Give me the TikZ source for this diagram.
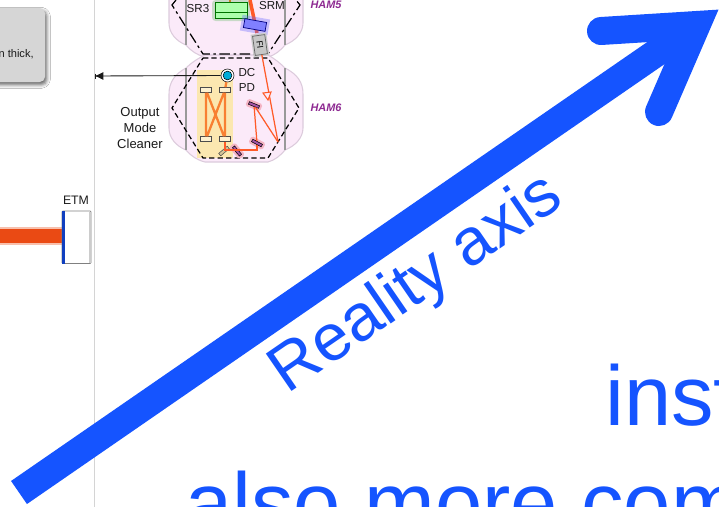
\documentclass[tikz,border=0pt]{standalone}
\usepackage{fontspec}
\setmainfont{Liberation Sans}
\usepackage{tikz}
\usetikzlibrary{arrows.meta,positioning,calc,shadows.blur}
\definecolor{Ink}{HTML}{1A1A1A}
\definecolor{AxisBlue}{HTML}{1554FF}
\definecolor{HamFill}{HTML}{FBEAF9}
\definecolor{HamLine}{HTML}{DCCBDC}
\definecolor{HamText}{HTML}{8E2A92}
\definecolor{BeamRed}{HTML}{FF5A28}
\definecolor{BeamOrange}{HTML}{F88032}
\definecolor{BeamDeep}{HTML}{EA4A14}
\definecolor{OmcFill}{HTML}{FBE7B0}
\definecolor{NoteGrey}{HTML}{D6D6D6}
\definecolor{RuleGrey}{HTML}{D4D4D4}
\definecolor{HaloPink}{HTML}{F4B4C4}
\tikzset{
  hamlabel/.style={font=\fontsize{6.2}{7}\selectfont\bfseries\itshape,text=HamText},
  optlabel/.style={font=\fontsize{6.6}{8.6}\selectfont,text=Ink,align=center},
  hexline/.style={black,dashed,dash pattern=on 3pt off 1.8pt,line width=.7pt},
  hexdash/.style={black,line width=.7pt,dash pattern=on 6pt off 2pt on 1.5pt off 2pt},
  beam/.style={BeamOrange,line width=1.3pt},
  thinbeam/.style={BeamRed,line width=.7pt},
  omcmirror/.style={draw=black!70,fill=OmcFill!60!white,line width=.3pt,minimum width=6.2pt,minimum height=2.8pt,inner sep=0pt},
  redmirror/.style={draw=black,fill=HamText!80,line width=.3pt,minimum width=6.2pt,minimum height=1.6pt,inner sep=0pt},
  mirrorhalo/.style={fill=HaloPink,rounded corners=1pt,minimum width=9pt,minimum height=4.4pt,inner sep=0pt},
  axislabel/.style={font=\fontsize{37.5}{40}\selectfont,text=AxisBlue},
  bigline/.style={font=\fontsize{48.3}{56}\selectfont,text=AxisBlue,anchor=base west,inner sep=0pt}
}
\begin{document}
\begin{tikzpicture}[x=.2mm,y=-.2mm]
  \useasboundingbox (0,0) rectangle (719,507);
  \clip (0,0) rectangle (719,507);
  \fill[white] (0,0) rectangle (719,507);

  % Note box and rule on the left
  \draw[RuleGrey,line width=.4pt] (94.5,0)--(94.5,507);
  \fill[NoteGrey,rounded corners=3pt,blur shadow={shadow xshift=1pt,shadow yshift=-1.6pt,shadow blur radius=2pt,shadow opacity=60}] (-10,8) rectangle (45,82);
  \node[font=\fontsize{6.3}{7}\selectfont,text=Ink,anchor=east,inner sep=0pt] (note) at (34,54) {n thick,};

  % End mirror
  \fill[BeamDeep!35] (0,227) rectangle (62,245);
  \fill[BeamDeep] (0,229) rectangle (62,243);
  \draw[black!50,fill=white,line width=.4pt,rounded corners=.5pt] (62,211) rectangle (91,263.5);
  \fill[black!20] (88.5,211.5) rectangle (90.8,263);
  \fill[AxisBlue!75!black] (62,211) rectangle (65,263.5);
  \node[optlabel,font=\fontsize{7}{8}\selectfont] (etm) at (76,200) {ETM};

  % Chambers
  \foreach \y in {-105,0}{
    \filldraw[HamFill,draw=HamLine,line width=.6pt] (205,\y+55)--(268,\y+55)
      ..controls (275,\y+59) and (280,\y+63) ..(285,\y+68)
      ..controls (297,\y+74) and (303,\y+82) ..(303,\y+94)--(303,\y+128)
      ..controls (303,\y+138) and (295,\y+146) ..(285,\y+150)
      ..controls (280,\y+156) and (275,\y+160) ..(268,\y+162)--(205,\y+162)
      ..controls (197,\y+160) and (191,\y+156) ..(186,\y+150)
      ..controls (176,\y+146) and (169,\y+138) ..(169,\y+128)--(169,\y+94)
      ..controls (169,\y+82) and (175,\y+74) ..(186,\y+68)
      ..controls (191,\y+63) and (197,\y+59) ..(205,\y+55)--cycle;
    \draw[black!40,line width=.8pt] (186,\y+68)--(186,\y+150);
    \draw[black!40,line width=.8pt] (285,\y+68)--(285,\y+150);
  }
  \fill[OmcFill] (197,70) rectangle (233,158);
  \draw[hexline] (203,58)--(268,58)--(299,108)--(268,158)--(203,158)--(172,108)--cycle;
  \draw[hexdash] (176,0)--(172,5)--(203,54)--(268,54)--(300,5)--(296,0);

  % HAM5 optics
  \draw[BeamRed,line width=2pt] (250,0)--(257,33);
  \draw[BeamOrange,line width=1.4pt] (230,0)--(230,3);
  \fill[green!60!black,opacity=.2,rounded corners=2pt] (212,0) rectangle (250,21);
  \filldraw[fill=green!32!white,draw=green!45!black,line width=.4pt] (215,2) rectangle (247,18);
  \draw[green!45!black,line width=.3pt] (215,12)--(247,12);
  \node[optlabel] (sr3) at (198,9) {SR3};
  \node[optlabel] (srm) at (272,6) {SRM};
  \fill[blue!60!white,opacity=.35,rotate around={-10:(255,25)}] (241,17) rectangle (269,33);
  \filldraw[fill=blue!50!white,draw=blue!50!black,line width=.4pt,rotate around={-10:(255,25)}] (244,20.5) rectangle (266,29.5);
  \node[fill=black!20,rotate=-82,minimum width=13pt,minimum height=9pt,inner sep=0pt] (fihalo) at (260,45) {};
  \node[draw=black!60,fill=black!22,rotate=-82,minimum width=11pt,minimum height=7pt,inner sep=0pt,font=\fontsize{5}{6}\selectfont] (fi) at (260,45) {FI};
  \node[hamlabel] (hamfive) at (326,5) {HAM5};

  % HAM6 optics
  \node[circle,draw=black,fill=white,minimum size=7.4pt,inner sep=0pt,line width=.3pt] (pdring) at (227.5,75.5) {};
  \node[circle,draw=black,fill=cyan!85!green,minimum size=5pt,inner sep=0pt,line width=.3pt] (pd) at (227.5,75.5) {};
  \coordinate (pdout) at (94.5,76);
  \draw[Ink,line width=.5pt,-{Latex[length=5pt,width=4.5pt]}] (pdring.west)--(pdout);
  \draw[Ink,line width=.7pt] (95.5,73.5)--(95.5,78.5);
  \node[optlabel] (pdlabel) at (247,80) {DC\\PD};
  \node[hamlabel] (hamsix) at (326,108) {HAM6};
  \node[optlabel,font=\fontsize{7.4}{9.3}\selectfont] (omc) at (140,128) {Output\\Mode\\Cleaner};

  \node[omcmirror] (ma) at (206,90) {};
  \node[omcmirror] (mb) at (225,90) {};
  \node[omcmirror] (mc) at (206,139) {};
  \node[omcmirror] (md) at (225,139) {};
  \draw[beam] (ma)--(mc) (mb)--(md) (ma)--(md) (mb)--(mc);
  \draw[beam] (pdring)--(mb);

  \coordinate (fold) at (278,142);
  \node[mirrorhalo,rotate=-22] (fhalo) at (254,105) {};
  \node[mirrorhalo,rotate=-28] (ehalo) at (257,143) {};
  \node[mirrorhalo,rotate=-50] (ghalo) at (237,151) {};
  \node[redmirror,rotate=-22] (mf) at (254,105) {};
  \node[redmirror,rotate=-28] (me) at (257,143) {};
  \node[redmirror,rotate=-50] (mg) at (237,151) {};
  \node[draw=black!70,fill=OmcFill!85!black,rotate=40,minimum width=6.4pt,minimum height=1.8pt,inner sep=0pt,line width=.3pt] (mh) at (224,151) {};
  \draw[thinbeam] (md)--(225,150)--(257,150)--(me);
  \draw[thinbeam] (me)--(mf)--(fold);
  \draw[thinbeam] (fi)--(fold);
  \draw[BeamRed,fill=HamFill,line width=.6pt] (263,93)--(271,92)--(268,100)--cycle;

  % Reality axis arrow
  \coordinate (axistail) at (19,492.5);
  \coordinate (axishead) at (696.6,25);
  \coordinate (barbtop) at (601,31);
  \coordinate (barbright) at (659,112);
  \draw[AxisBlue,line width=5.6mm] (axistail)--(axishead);
  \draw[AxisBlue,line width=5.6mm,line cap=round,miter limit=10] (barbtop)--(axishead)--(barbright);
  \node[axislabel,rotate=34.5] (axisname) at (417,285) {Reality axis};

  \node[bigline] (inst) at (605,425) {inst};
  \node[bigline] (com) at (185,532) {also more com};
\end{tikzpicture}
\end{document}
